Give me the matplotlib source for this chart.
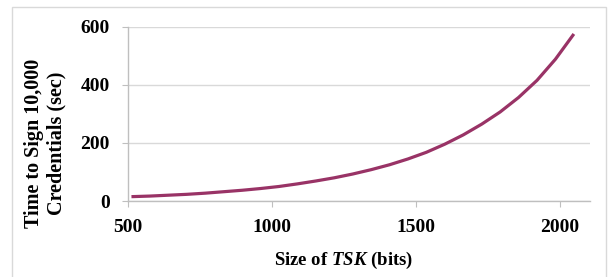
import matplotlib
matplotlib.use('Agg')
import matplotlib.pyplot as plt
from matplotlib.patches import Rectangle

# key size (bits) vs time to sign 10,000 credentials (sec)
key_bits = [512, 576, 640, 704, 768, 832, 896, 960, 1024, 1088, 1152, 1216, 1280,
            1344, 1408, 1472, 1536, 1600, 1664, 1728, 1792, 1856, 1920, 1984, 2048]
sign_time = [15, 17, 20, 23, 27, 32, 37, 43, 50, 59, 69, 80, 93,
             108, 125, 145, 168, 196, 228, 265, 307, 357, 416, 489, 576]

x_ticks = [500, 1000, 1500, 2000]
y_ticks = [0, 200, 400, 600]

W, H = 616, 277
plt.rcParams['font.family'] = ['Liberation Serif', 'DejaVu Serif']
plt.rcParams['font.weight'] = 'bold'
plt.rcParams['mathtext.fontset'] = 'custom'
plt.rcParams['mathtext.bfit'] = 'Liberation Serif:bold:italic'
plt.rcParams['mathtext.it'] = 'Liberation Serif:bold:italic'

fig = plt.figure(figsize=(W / 100, H / 100), dpi=100)

# light frame around the whole chart area
fig.patches.append(Rectangle((11.5 / W, -0.05), (606 - 11.5) / W, 1.05 - 6.5 / H,
                             transform=fig.transFigure, fill=False,
                             edgecolor='#d9d9d9', linewidth=1.0))

ax = fig.add_axes([128 / W, (H - 201) / H, (590 - 128) / W, (201 - 27) / H])
ax.plot(key_bits, sign_time, color='#993366', linewidth=2.3, solid_capstyle='butt',
        solid_joinstyle='round')

ax.set_xlim(500, 2104)
ax.set_ylim(0, 600)
ax.set_xticks(x_ticks)
ax.set_yticks(y_ticks)
ax.yaxis.grid(True, color='#d9d9d9', linewidth=1.0)
ax.set_axisbelow(True)

for s in ['top', 'right']:
    ax.spines[s].set_visible(False)
for s in ['left', 'bottom']:
    ax.spines[s].set_color('#bfbfbf')
    ax.spines[s].set_linewidth(1.0)

ax.tick_params(axis='both', direction='out', length=4, color='#bfbfbf', labelsize=14)
ax.tick_params(axis='x', pad=9)
ax.tick_params(axis='y', pad=9)
for lbl in ax.get_xticklabels() + ax.get_yticklabels():
    lbl.set_fontweight('bold')

fig.text(344 / W, 1 - 260 / H, 'Size of $\\mathit{TSK}$ (bits)', ha='center', va='center',
         fontsize=13.5, fontweight='bold')
fig.text(45 / W, 1 - 143 / H, 'Time to Sign 10,000\nCredentials (sec)', rotation=90,
         ha='center', va='center', multialignment='center', fontsize=14.5, fontweight='bold',
         linespacing=1.15)

plt.savefig('out.png', dpi=100)
plt.close(fig)
